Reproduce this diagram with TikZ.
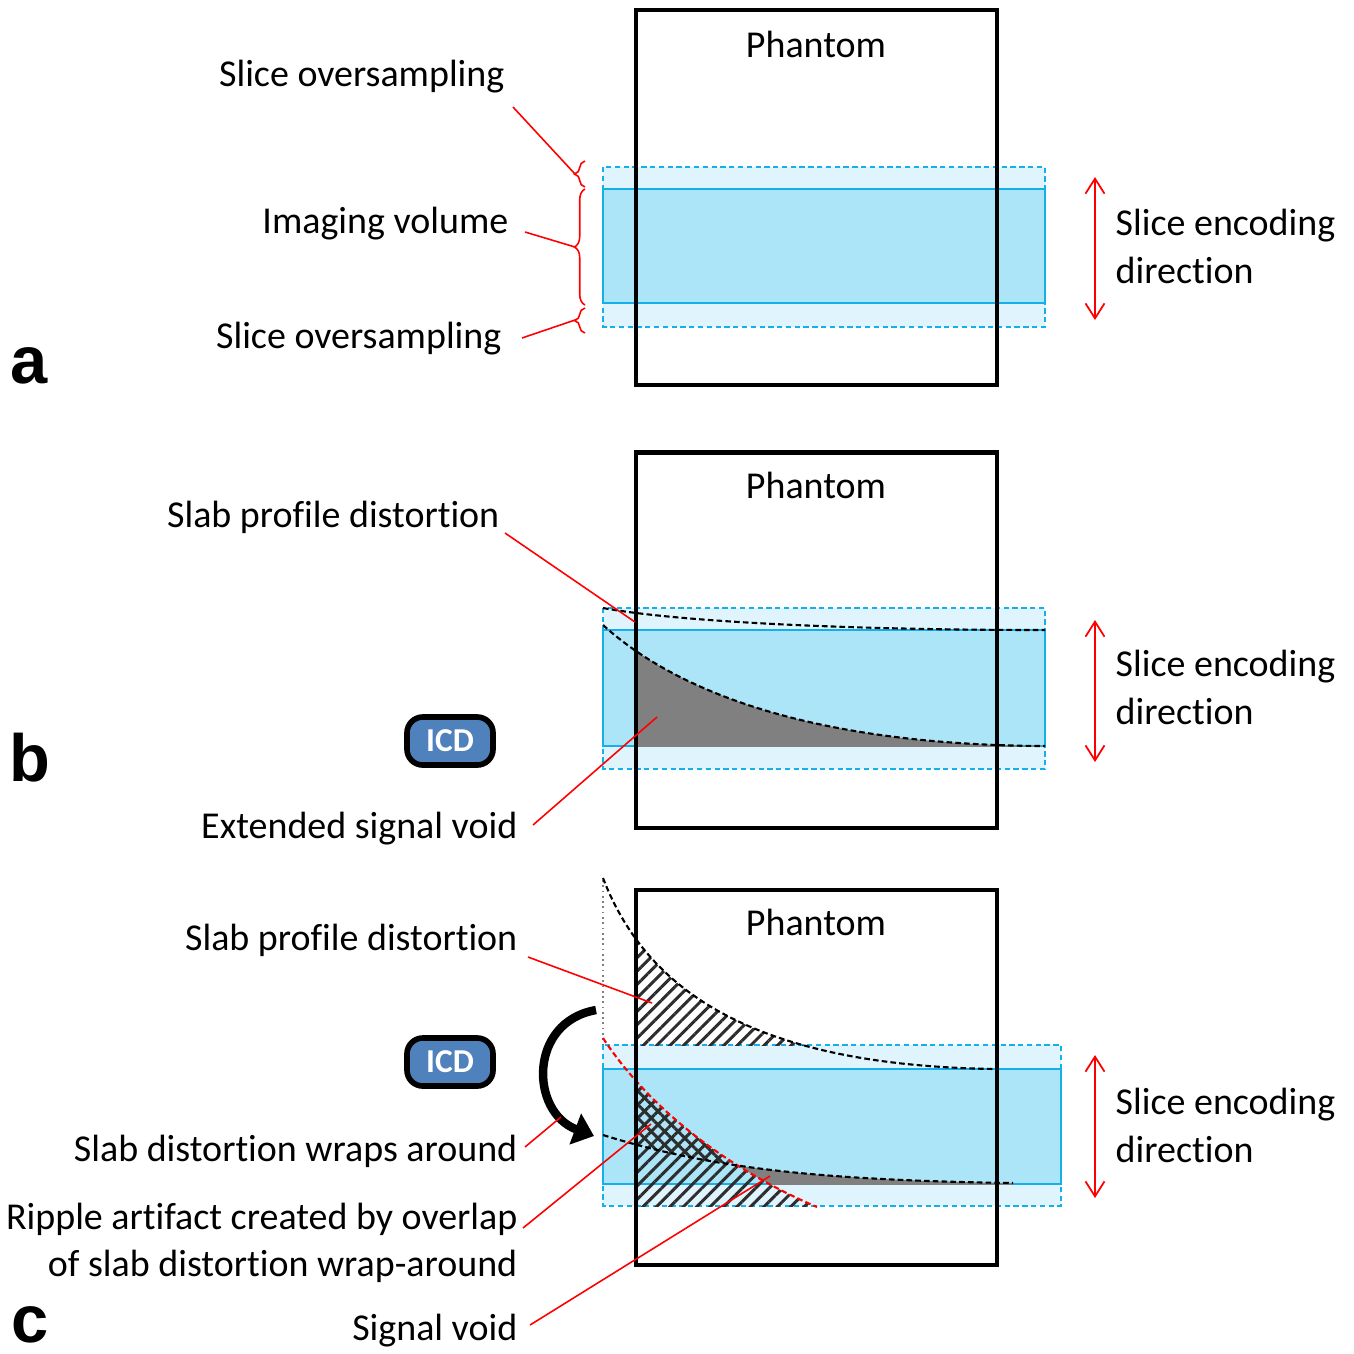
\documentclass[tikz,border=0pt]{standalone}
\usepackage{fontspec}
\setmainfont{Carlito}[Ligatures=NoCommon]
\newfontfamily\panelfont{Liberation Sans}
\usetikzlibrary{arrows.meta, decorations.pathreplacing, patterns.meta}

\definecolor{slabedge}{RGB}{20,176,236}
\definecolor{slablight}{RGB}{223,244,252}
\definecolor{slabmid}{RGB}{172,228,248}
\definecolor{icdblue}{RGB}{79,129,189}
\definecolor{voidgray}{RGB}{128,128,128}
\definecolor{hatchgray}{RGB}{45,45,45}

\begin{document}
\begin{tikzpicture}[
  x=0.01cm, y=-0.01cm,
  every node/.style={font=\fontsize{10.8}{13.5}\selectfont, inner sep=0pt},
  >=Latex,
  phantom/.style ={draw, line width=1.2pt, minimum width=3.61cm,
                   minimum height=3.75cm},
  oversamp/.style={draw=slabedge, fill=slablight, line width=0.55pt,
                   dash pattern=on 1.5pt off 1pt},
  imgvol/.style  ={draw=slabedge, fill=slabmid, line width=0.55pt},
  profile/.style ={line width=0.6pt, dash pattern=on 1.6pt off 0.9pt},
  void/.style    ={fill=voidgray},
  hatch/.style   ={pattern={Lines[angle=45,distance=2.7pt,line width=0.85pt]},
                   pattern color=hatchgray},
  xhatch/.style  ={pattern={Lines[angle=-45,distance=2.7pt,line width=0.85pt]},
                   pattern color=hatchgray},
  ptr/.style     ={red, line width=0.45pt},
  sbrace/.style  ={red, line width=0.45pt, decorate,
                   decoration={brace, amplitude=3pt}},
  encdir/.style  ={red, line width=0.5pt,
                   {Straight Barb[length=1.5mm,width=1.9mm]}-{Straight Barb[length=1.5mm,width=1.9mm]}},
  wrap/.style    ={line width=2.4pt, -{Triangle[length=2mm,width=3.2mm]}},
  lbl/.style     ={anchor=east},
  dirlbl/.style  ={anchor=west, align=left},
  panel/.style   ={font=\panelfont\bfseries\fontsize{19}{19}\selectfont},
  icd/.style     ={draw, line width=1.6pt, fill=icdblue, rounded corners=4.5pt,
                   minimum width=0.86cm, minimum height=0.48cm, text=white,
                   font=\bfseries\fontsize{9.5}{10}\selectfont},
]
\useasboundingbox (0,0) rectangle (1354,1353);

%% ---- y layout (px, downwards) ----
%%   10 -  385  panel a
%%  453 -  827  panel b
%%  890 - 1265  panel c

%% ---- Panel a ----
\draw[oversamp] (603,167) rectangle (1045,327);
\draw[imgvol]   (603,189) rectangle (1045,303);
\node[phantom] (phA) at (816.5,197.5) {};
\node (phAlbl) at (816,44) {Phantom};

\draw[sbrace] (585,187) -- (585,161);
\draw[sbrace] (585,305) -- (585,189);
\draw[sbrace] (585,333) -- (585,308);
\coordinate (brTop) at (575,174);
\coordinate (brMid) at (575,247);
\coordinate (brBot) at (575,320);

\node[lbl] (soTop) at (505,77)  {Slice oversampling};
\node[lbl] (ivol)  at (509,224) {Imaging volume};
\node[lbl] (soBot) at (502,339) {Slice oversampling};
\coordinate (soTop-p) at (513,107);
\coordinate (ivol-p)  at (525,232);
\coordinate (soBot-p) at (522,338);
\draw[ptr] (soTop-p) -- (brTop);
\draw[ptr] (ivol-p)  -- (brMid);
\draw[ptr] (soBot-p) -- (brBot);

\coordinate (encAt) at (1095,177);
\coordinate (encAb) at (1095,320);
\draw[encdir] (encAt) -- (encAb);
\node[dirlbl] (encA) at (1115,246.5) {Slice encoding\\direction};

\node[panel] (pa) at (29,366) {a};

%% ---- Panel b ----
\draw[oversamp] (603,608) rectangle (1045,769);
\draw[imgvol]   (603,630) rectangle (1045,746);
\begin{scope}
  \clip (637,600) rectangle (1045,746);
  \fill[void] (603,625) .. controls (680,695) and (820,745) .. (1045,746)
              -- (1045,760) -- (603,760) -- cycle;
\end{scope}
\draw[profile] (603,608) .. controls (680,622) and (850,630) .. (1045,630);
\draw[profile] (603,625) .. controls (680,695) and (820,745) .. (1045,746);
\node[phantom] (phB) at (816.5,640) {};
\node (phBlbl) at (816,485) {Phantom};

\node[icd] (icdB) at (450,741) {ICD};

\node[lbl] (spdB) at (500,517) {Slab profile distortion};
\node[lbl] (esv)  at (518,829) {Extended signal void};
\coordinate (spdB-p) at (505,533);
\coordinate (spdB-t) at (635,622);
\coordinate (esv-p)  at (533,825);
\coordinate (esv-t)  at (657,717);
\draw[ptr] (spdB-p) -- (spdB-t);
\draw[ptr] (esv-p)  -- (esv-t);

\coordinate (encBt) at (1095,620);
\coordinate (encBb) at (1095,762);
\draw[encdir] (encBt) -- (encBb);
\node[dirlbl] (encB) at (1115,687.5) {Slice encoding\\direction};

\node[panel] (pb) at (30,758) {b};

%% ---- Panel c ----
\draw[oversamp] (603,1045) rectangle (1061,1206);
\draw[imgvol]   (603,1069) rectangle (1061,1184);

% signal void below the lower profile, outside the wrapped part
\begin{scope}
  \clip (637,1100) rectangle (1061,1184);
  \clip (603,1038) .. controls (650,1110) and (730,1170) .. (817,1207)
        -- (1061,1207) -- (1061,1030) -- cycle;
  \fill[void] (603,1135) .. controls (700,1165) and (800,1180) .. (1013,1183)
              -- (1013,1195) -- (603,1195) -- cycle;
\end{scope}

% slab distortion above the slab
\begin{scope}
  \clip (637,870) rectangle (1000,1045);
  \path[hatch] (603,878) .. controls (648,995) and (760,1066) .. (997,1069)
               -- (603,1069) -- cycle;
\end{scope}

% wrapped-around distortion, with the overlap cross-hatched
\begin{scope}
  \clip (637,1030) rectangle (1000,1206);
  \path[hatch] (603,1038) .. controls (650,1110) and (730,1170) .. (817,1207)
               -- (603,1207) -- cycle;
  \clip (603,1038) .. controls (650,1110) and (730,1170) .. (817,1207)
        -- (603,1207) -- cycle;
  \path[xhatch] (603,1135) .. controls (700,1165) and (800,1180) .. (1013,1183)
                -- (1013,1000) -- (603,1000) -- cycle;
\end{scope}

\draw[densely dotted, line width=0.5pt, gray] (603,880) -- (603,1045);
\draw[profile] (603,878) .. controls (648,995) and (760,1066) .. (997,1069);
\draw[profile, red] (603,1038) .. controls (650,1110) and (730,1170) .. (817,1207);
\draw[profile] (603,1135) .. controls (700,1165) and (800,1180) .. (1013,1183);
\node[phantom] (phC) at (816.5,1077.5) {};
\node (phClbl) at (816,922) {Phantom};

\node[icd] (icdC) at (450,1062) {ICD};

\coordinate (wrapFrom) at (596,1010);
\coordinate (wrapTo)   at (594,1136);
\draw[wrap] (wrapFrom) .. controls (528,1022) and (530,1112) .. (wrapTo);

\node[lbl] (spdC)   at (518,940)  {Slab profile distortion};
\node[lbl] (wraps)  at (518,1151) {Slab distortion wraps around};
\node[lbl, align=right] (ripple) at (518,1243)
  {Ripple artifact created by overlap\\of slab distortion wrap-around};
\node[lbl] (svoid)  at (518,1331) {Signal void};
\coordinate (spdC-p)   at (528,957);
\coordinate (spdC-t)   at (652,1003);
\coordinate (wraps-p)  at (525,1147);
\coordinate (wraps-t)  at (561,1117);
\coordinate (ripple-p) at (523,1228);
\coordinate (ripple-t) at (651,1124);
\coordinate (svoid-p)  at (530,1325);
\coordinate (svoid-t)  at (770,1176);
\draw[ptr] (spdC-p)   -- (spdC-t);
\draw[ptr] (wraps-p)  -- (wraps-t);
\draw[ptr] (ripple-p) -- (ripple-t);
\draw[ptr] (svoid-p)  -- (svoid-t);

\coordinate (encCt) at (1095,1055);
\coordinate (encCb) at (1095,1198);
\draw[encdir] (encCt) -- (encCb);
\node[dirlbl] (encC) at (1115,1125.5) {Slice encoding\\direction};

\node[panel] (pc) at (30,1325) {c};

\end{tikzpicture}
\end{document}
